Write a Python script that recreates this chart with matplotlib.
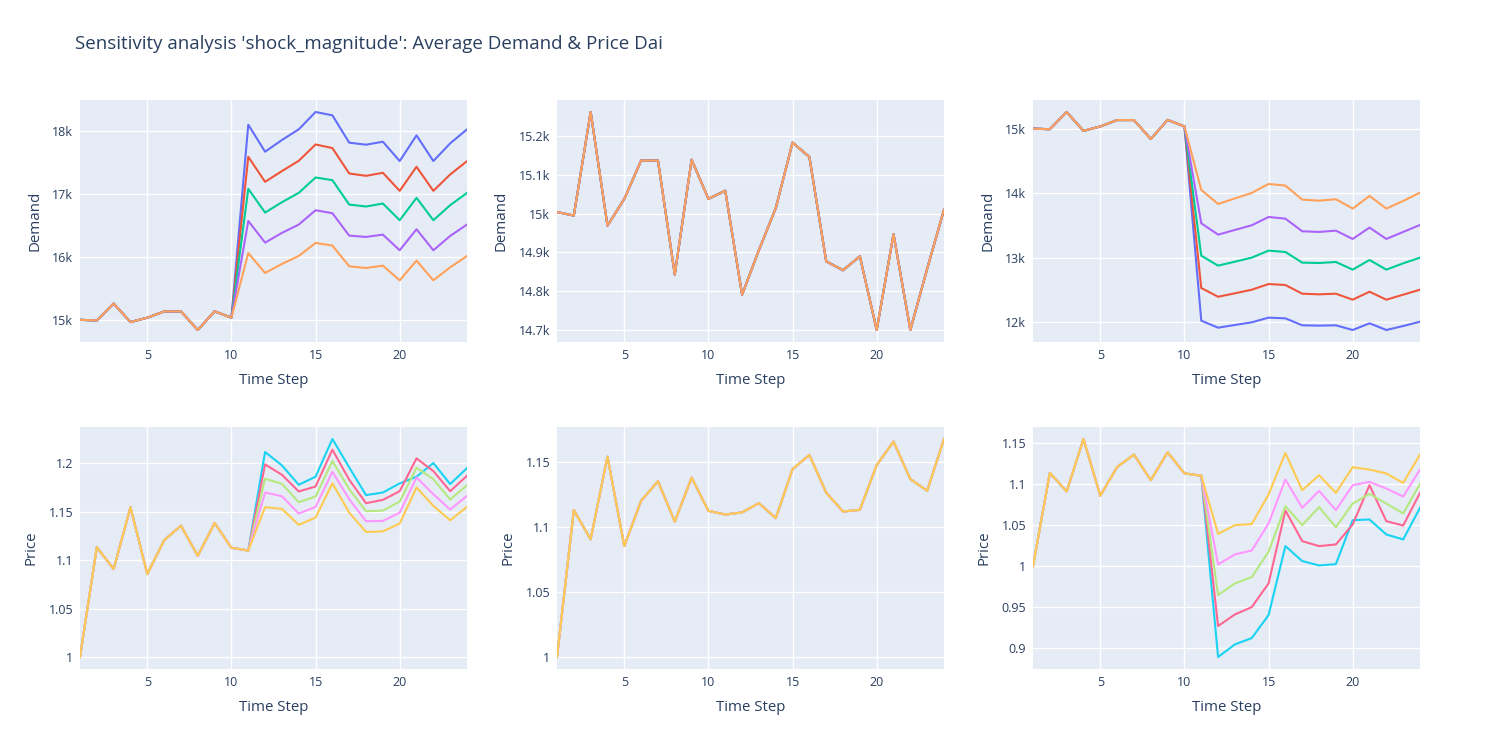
import matplotlib.pyplot as plt
from matplotlib.ticker import MultipleLocator, FuncFormatter

plt.rcParams['font.family'] = ['Open Sans', 'DejaVu Sans']

time_steps = list(range(1, 25))

# baseline series (no shock)
base_demand = [15004, 14995, 15262, 14969, 15038, 15137, 15137, 14843, 15139, 15038,
               15059, 14791, 14906, 15014, 15183, 15146, 14877, 14854, 14890, 14700,
               14947, 14700, 14858, 15010]
base_price = [1.000, 1.1132, 1.0907, 1.1544, 1.0855, 1.1204, 1.1354, 1.1044, 1.1382, 1.1126,
              1.1098, 1.1114, 1.1186, 1.1070, 1.1448, 1.1557, 1.1266, 1.1121, 1.1134, 1.1479,
              1.1660, 1.1371, 1.1281, 1.1680]

# demand after positive shock, steps 11..24 (largest shock first)
demand_up = [
    [18095, 17667, 17852, 18021, 18296, 18243, 17810, 17778, 17825, 17519, 17926, 17519, 17799, 18021],
    [17587, 17190, 17360, 17523, 17782, 17724, 17322, 17285, 17333, 17047, 17428, 17047, 17306, 17518],
    [17079, 16703, 16867, 17015, 17259, 17216, 16830, 16799, 16846, 16582, 16936, 16582, 16820, 17015],
    [16571, 16227, 16381, 16513, 16740, 16693, 16338, 16317, 16354, 16106, 16439, 16106, 16333, 16513],
    [16063, 15746, 15889, 16016, 16222, 16180, 15852, 15825, 15862, 15630, 15942, 15630, 15836, 16016],
]
# demand after negative shock, steps 11..24
demand_down = [
    [12026, 11917, 11959, 12000, 12073, 12062, 11954, 11949, 11954, 11881, 11985, 11881, 11943, 12010],
    [12532, 12397, 12450, 12506, 12594, 12579, 12444, 12434, 12444, 12351, 12475, 12351, 12429, 12506],
    [13034, 12879, 12941, 13003, 13112, 13091, 12926, 12920, 12936, 12817, 12967, 12817, 12915, 13003],
    [13536, 13360, 13433, 13505, 13634, 13608, 13412, 13402, 13422, 13293, 13469, 13293, 13402, 13510],
    [14053, 13836, 13922, 14007, 14146, 14121, 13903, 13887, 13909, 13764, 13960, 13764, 13882, 14012],
]
# price after positive demand shock, steps 12..24
price_up = [
    [1.2114, 1.1976, 1.1776, 1.1859, 1.2248, 1.1955, 1.1669, 1.1696, 1.1790, 1.1859, 1.2000, 1.1783, 1.1948],
    [1.1986, 1.1879, 1.1707, 1.1758, 1.2138, 1.1828, 1.1586, 1.1620, 1.1710, 1.2048, 1.1917, 1.1710, 1.1869],
    [1.1838, 1.1786, 1.1596, 1.1655, 1.2021, 1.1731, 1.1503, 1.1510, 1.1603, 1.1952, 1.1834, 1.1624, 1.1772],
    [1.1696, 1.1658, 1.1479, 1.1548, 1.1910, 1.1627, 1.1400, 1.1403, 1.1489, 1.1852, 1.1679, 1.1520, 1.1662],
    [1.1545, 1.1527, 1.1362, 1.1438, 1.1790, 1.1489, 1.1289, 1.1296, 1.1376, 1.1748, 1.1558, 1.1410, 1.1548],
]
# price after negative demand shock, steps 12..24
price_down = [
    [0.8896, 0.9049, 0.9126, 0.9405, 1.0243, 1.0061, 1.0008, 1.0024, 1.0558, 1.0566, 1.0384, 1.0324, 1.0708],
    [0.9272, 0.9413, 0.9502, 0.9790, 1.0676, 1.0303, 1.0243, 1.0263, 1.0506, 1.0983, 1.0546, 1.0493, 1.0890],
    [0.9648, 0.9790, 0.9867, 1.0174, 1.0728, 1.0498, 1.0716, 1.0473, 1.0760, 1.0878, 1.0760, 1.0639, 1.0999],
    [1.0020, 1.0142, 1.0190, 1.0518, 1.1052, 1.0708, 1.0914, 1.0680, 1.0983, 1.1023, 1.0942, 1.0845, 1.1173],
    [1.0392, 1.0498, 1.0510, 1.0870, 1.1375, 1.0922, 1.1104, 1.0890, 1.1201, 1.1173, 1.1125, 1.1011, 1.1355],
]

demand_colors = ['#636EFA', '#EF553B', '#00CC96', '#AB63FA', '#FFA15A']
price_colors = ['#19D3F3', '#FF6692', '#B6E880', '#FF97FF', '#FECB52']
text_color = '#2a3f5f'

demand_sets = [
    [base_demand[:10] + s for s in demand_up],
    [base_demand for _ in range(5)],
    [base_demand[:10] + s for s in demand_down],
]
price_sets = [
    [base_price[:11] + s for s in price_up],
    [base_price for _ in range(5)],
    [base_price[:11] + s for s in price_down],
]
demand_steps = [1000, 100, 1000]
price_steps = [0.05, 0.05, 0.05]

fig = plt.figure(figsize=(15, 7.5), dpi=100)
lefts = [80 / 1500, 557 / 1500, 1033 / 1500]
width = 387 / 1500
top_row = (1 - 342 / 750, 242 / 750)
bottom_row = (1 - 669 / 750, 242 / 750)


def style_axes(ax, ylabel, ystep, fmt):
    ax.set_facecolor('#E5ECF6')
    for sp in ax.spines.values():
        sp.set_visible(False)
    ax.grid(True, color='white', linewidth=1.0)
    ax.set_axisbelow(True)
    ax.tick_params(length=0, labelsize=9, labelcolor=text_color, pad=5)
    ax.xaxis.set_major_locator(MultipleLocator(5))
    ax.yaxis.set_major_locator(MultipleLocator(ystep))
    ax.yaxis.set_major_formatter(FuncFormatter(fmt))
    ax.set_xlim(1, 24)
    ax.margins(x=0, y=0.055)
    ax.set_xlabel('Time Step', fontsize=10.8, color=text_color, labelpad=8)
    ax.set_ylabel(ylabel, fontsize=10.8, color=text_color, labelpad=7)


def k_fmt(v, pos):
    return f"{v / 1000:g}k"


def p_fmt(v, pos):
    return f"{round(v, 4):g}"


for i in range(3):
    ax = fig.add_axes([lefts[i], top_row[0], width, top_row[1]])
    for series, c in zip(demand_sets[i], demand_colors):
        ax.plot(time_steps, series, color=c, linewidth=1.5)
    style_axes(ax, 'Demand', demand_steps[i], k_fmt)

    ax = fig.add_axes([lefts[i], bottom_row[0], width, bottom_row[1]])
    for series, c in zip(price_sets[i], price_colors):
        ax.plot(time_steps, series, color=c, linewidth=1.5)
    style_axes(ax, 'Price', price_steps[i], p_fmt)

fig.text(75 / 1500, 1 - 44 / 750, "Sensitivity analysis 'shock_magnitude': Average Demand & Price Dai",
         fontsize=13.5, color=text_color, va='center', ha='left')

fig.savefig('out.png', dpi=100)
